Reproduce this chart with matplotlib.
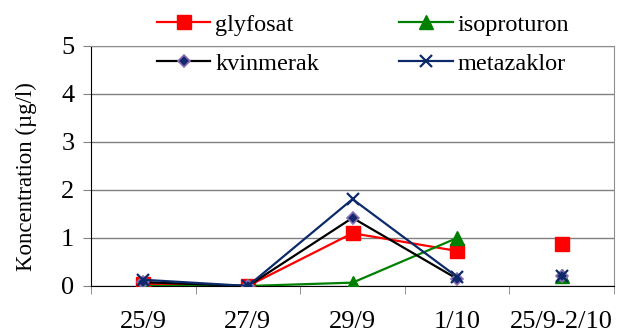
import numpy as np
from matplotlib import pyplot as plt

dates = ['25/9', '27/9', '29/9', '1/10', '25/9-2/10']
glyfosat = [0.04, 0.0, 1.10, 0.73, 0.88]
isoproturon = [0.0, 0.0, 0.07, 1.00, 0.20]
kvinmerak = [0.08, 0.0, 1.42, 0.15, 0.20]
metazaklor = [0.13, 0.0, 1.81, 0.19, 0.20]

plt.rcParams['font.serif'] = ['Liberation Serif', 'DejaVu Serif']
plt.rcParams['font.family'] = 'serif'

fig = plt.figure(figsize=(6.17, 3.36), dpi=100)
ax = fig.add_axes([91 / 617, 1 - 286 / 336, (614 - 91) / 617, 240 / 336])

x = np.arange(len(dates))

series = [
    ('glyfosat', glyfosat, dict(color='red', marker='s', ms=9.5, mfc='red', mec='red')),
    ('isoproturon', isoproturon, dict(color='green', marker='^', ms=10, mfc='green', mec='green')),
    ('kvinmerak', kvinmerak, dict(color='black', marker='D', ms=6.5, mfc='#14286e', mec='#8a6fb5', mew=1.2)),
    ('metazaklor', metazaklor, dict(color='#0c2a6a', marker='x', ms=9, mew=1.6)),
]

handles = {}
for name, vals, st in series:
    # line only for the single dates, the period sample stands alone
    ln, = ax.plot(x[:4], vals[:4], '-', lw=1.6, label=name, zorder=3, **st)
    ax.plot(x[4], vals[4], linestyle='none', zorder=3, **st)
    handles[name] = ln

ax.set_xlim(-0.5, 4.5)
ax.set_ylim(0, 5)
ax.set_yticks(range(6))
ax.yaxis.grid(True, color='#808080', lw=1)
ax.set_axisbelow(True)

ax.set_xticks(x)
ax.set_xticklabels(dates)
ax.set_xticks(np.arange(-0.5, 5, 1), minor=True)
ax.tick_params(axis='x', which='major', length=0, pad=18, labelsize=19)
ax.tick_params(axis='x', which='minor', length=6, color='#808080')
ax.tick_params(axis='y', length=6, labelsize=19, pad=6, color='#808080')

ax.spines['top'].set_color('#909090')
ax.spines['right'].set_color('#909090')
ax.spines['left'].set_color('black')
ax.spines['bottom'].set_color('black')

ax.set_ylabel('Koncentration (µg/l)', fontsize=16.5)
ax.yaxis.set_label_coords(-0.103, 0.455)

# row-wise order like the original: glyfosat, isoproturon / kvinmerak, metazaklor
order = ['glyfosat', 'kvinmerak', 'isoproturon', 'metazaklor']
fig.legend([handles[n] for n in order], order, loc='upper left',
           bbox_to_anchor=(135 / 617, 1 + 8 / 336), ncol=2, frameon=False,
           prop=dict(family='serif', size=17.5),
           handlelength=2.2, columnspacing=3.3, handletextpad=0.2,
           labelspacing=0.7)

plt.savefig('out.png', dpi=100)
